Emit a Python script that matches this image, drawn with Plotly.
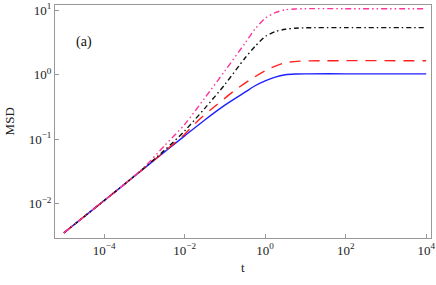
import plotly.graph_objects as go

# log10(t) sample positions, with log10(MSD) values
blue_logt = [-5, -4, -3, -2, -1.5, -1.0, -0.5, -0.25, 0.0, 0.25, 0.5, 0.75, 1.0, 2.0, 4.0]
blue_logm = [-2.45, -1.95, -1.447, -0.947, -0.70, -0.47, -0.27, -0.17, -0.095, -0.035, 0.0, 0.012, 0.015, 0.015, 0.015]

red_logt = [-5, -4, -3, -2.5, -2, -1.615, -1.2, -0.788, -0.373, 0.042, 0.455, 0.87, 1.5, 4.0]
red_logm = [-2.45, -1.95, -1.445, -1.19, -0.92, -0.68, -0.464, -0.258, -0.077, 0.077, 0.181, 0.212, 0.218, 0.218]

black_logt = [-5, -4, -3.5, -3, -2.5, -2, -1.5, -1, -0.5, -0.25, 0.0, 0.25, 0.5, 0.75, 1.0, 2.0, 4.0]
black_logm = [-2.45, -1.95, -1.70, -1.44, -1.17, -0.87, -0.52, -0.15, 0.26, 0.44, 0.592, 0.669, 0.706, 0.722, 0.729, 0.731, 0.731]

mag_logt = [-5, -4, -3.5, -3, -2.5, -2, -1.5, -1, -0.5, -0.25, 0.0, 0.25, 0.5, 0.75, 1.0, 2.0, 4.0]
mag_logm = [-2.45, -1.95, -1.70, -1.43, -1.10, -0.77, -0.36, 0.06, 0.49, 0.71, 0.876, 0.963, 1.008, 1.020, 1.025, 1.025, 1.025]

xtick_vals = [1e-4, 1e-2, 1e0, 1e2, 1e4]
xtick_text = ["10<sup>−4</sup>", "10<sup>−2</sup>", "10<sup>0</sup>", "10<sup>2</sup>", "10<sup>4</sup>"]
ytick_vals = [1e-2, 1e-1, 1e0, 1e1]
ytick_text = ["10<sup>−2</sup>", "10<sup>−1</sup>", "10<sup>0</sup>", "10<sup>1</sup>"]


def pw(v):
    return [10 ** a for a in v]


fig = go.Figure()
series = [
    (blue_logt, blue_logm, "#1f1fff", "solid"),
    (red_logt, red_logm, "#ff2020", "11px,8px"),
    (black_logt, black_logm, "#111111", "5px,3px,1.5px,3px"),
    (mag_logt, mag_logm, "#ff3399", "6px,3px,1.5px,3px,1.5px,3px"),
]
for lt, lm, col, dash in series:
    fig.add_trace(go.Scatter(
        x=pw(lt), y=pw(lm), mode="lines",
        line=dict(color=col, width=1.4, dash=dash, shape="spline", smoothing=0.8),
        showlegend=False, hoverinfo="skip"))

font = dict(family="Liberation Serif", size=13, color="#222222")
axis_common = dict(
    type="log", showgrid=False, zeroline=False, automargin=False,
    showline=True, linecolor="#999999", linewidth=1, mirror=True,
    ticks="inside", ticklen=4, tickcolor="#999999", tickwidth=1,
    tickfont=font,
)
fig.update_layout(
    width=436, height=285,
    margin=dict(l=55, r=5, t=5, b=47),
    paper_bgcolor="white", plot_bgcolor="white",
    xaxis=dict(range=[-5.22, 4.12], tickvals=xtick_vals, ticktext=xtick_text, **axis_common),
    yaxis=dict(range=[-2.53, 1.082], tickvals=ytick_vals, ticktext=ytick_text, **axis_common),
    annotations=[
        dict(text="(a)", x=0.05, y=0.882, xref="paper", yref="paper",
             showarrow=False, font=dict(family="Liberation Serif", size=14, color="#111111")),
        dict(text="t", x=0.5, y=-0.125, xref="paper", yref="paper", xanchor="center", yanchor="middle",
             showarrow=False, font=font),
        dict(text="MSD", x=-0.12, y=0.5, xref="paper", yref="paper", xanchor="center", yanchor="middle",
             textangle=-90, showarrow=False, font=font),
    ],
)
fig.write_html("out.html", config={"displayModeBar": False},
               post_script="document.body.style.margin='0';document.body.style.overflow='hidden';")
